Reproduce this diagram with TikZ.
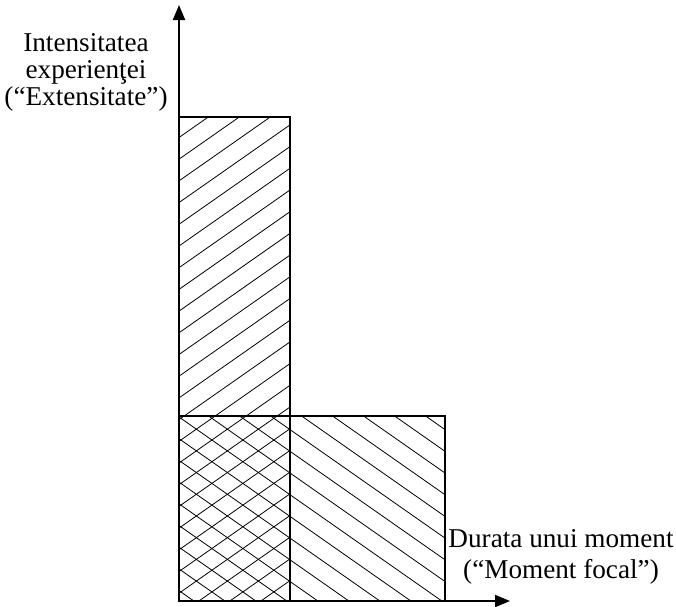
\documentclass[tikz,border=0pt]{standalone}
\usepackage{fontspec}
\setmainfont{Liberation Serif}
\usetikzlibrary{arrows.meta}
\begin{document}
\begin{tikzpicture}[x=1pt,y=-1pt,>={Triangle[length=15pt,width=12pt]},line cap=butt,
  hatch/.style={line width=0.8pt},
  frame/.style={line width=1.8pt},
  axis/.style={line width=2pt,->},
  lbl/.style={align=center,inner sep=0pt,font=\fontsize{27.2}{27}\selectfont}]
\useasboundingbox (0,0) rectangle (676,606);
\coordinate (O) at (179,601);
\coordinate (ytip) at (179,5);
\coordinate (xtip) at (510,601);
\coordinate (tall) at (290,117);
\coordinate (wide) at (445,416);
% hatching of the tall bar
\begin{scope}
\clip (O) rectangle (tall);
\foreach \k in {0,...,26}
  \draw[hatch] (179,{137.5+21.7*\k}) -- ++(160,-112);
\end{scope}
% hatching of the wide bar
\begin{scope}
\clip (O) rectangle (wide);
\foreach \k in {-6,...,14}
  \draw[hatch] (179,{330.2+21.7*\k}) -- ++(300,210);
\end{scope}
\draw[frame] (O) rectangle (tall);
\draw[frame] (O) rectangle (wide);
\draw[axis] (O) -- (ytip);
\draw[axis] (O) -- (xtip);
\node[lbl] (ylab) at (86,72) {Intensitatea\\experienţei\\(“Extensitate”)};
\node[lbl,font=\fontsize{27.2}{31}\selectfont] (xlab) at (561,557) {Durata unui moment\\(“Moment focal”)};
\end{tikzpicture}
\end{document}
